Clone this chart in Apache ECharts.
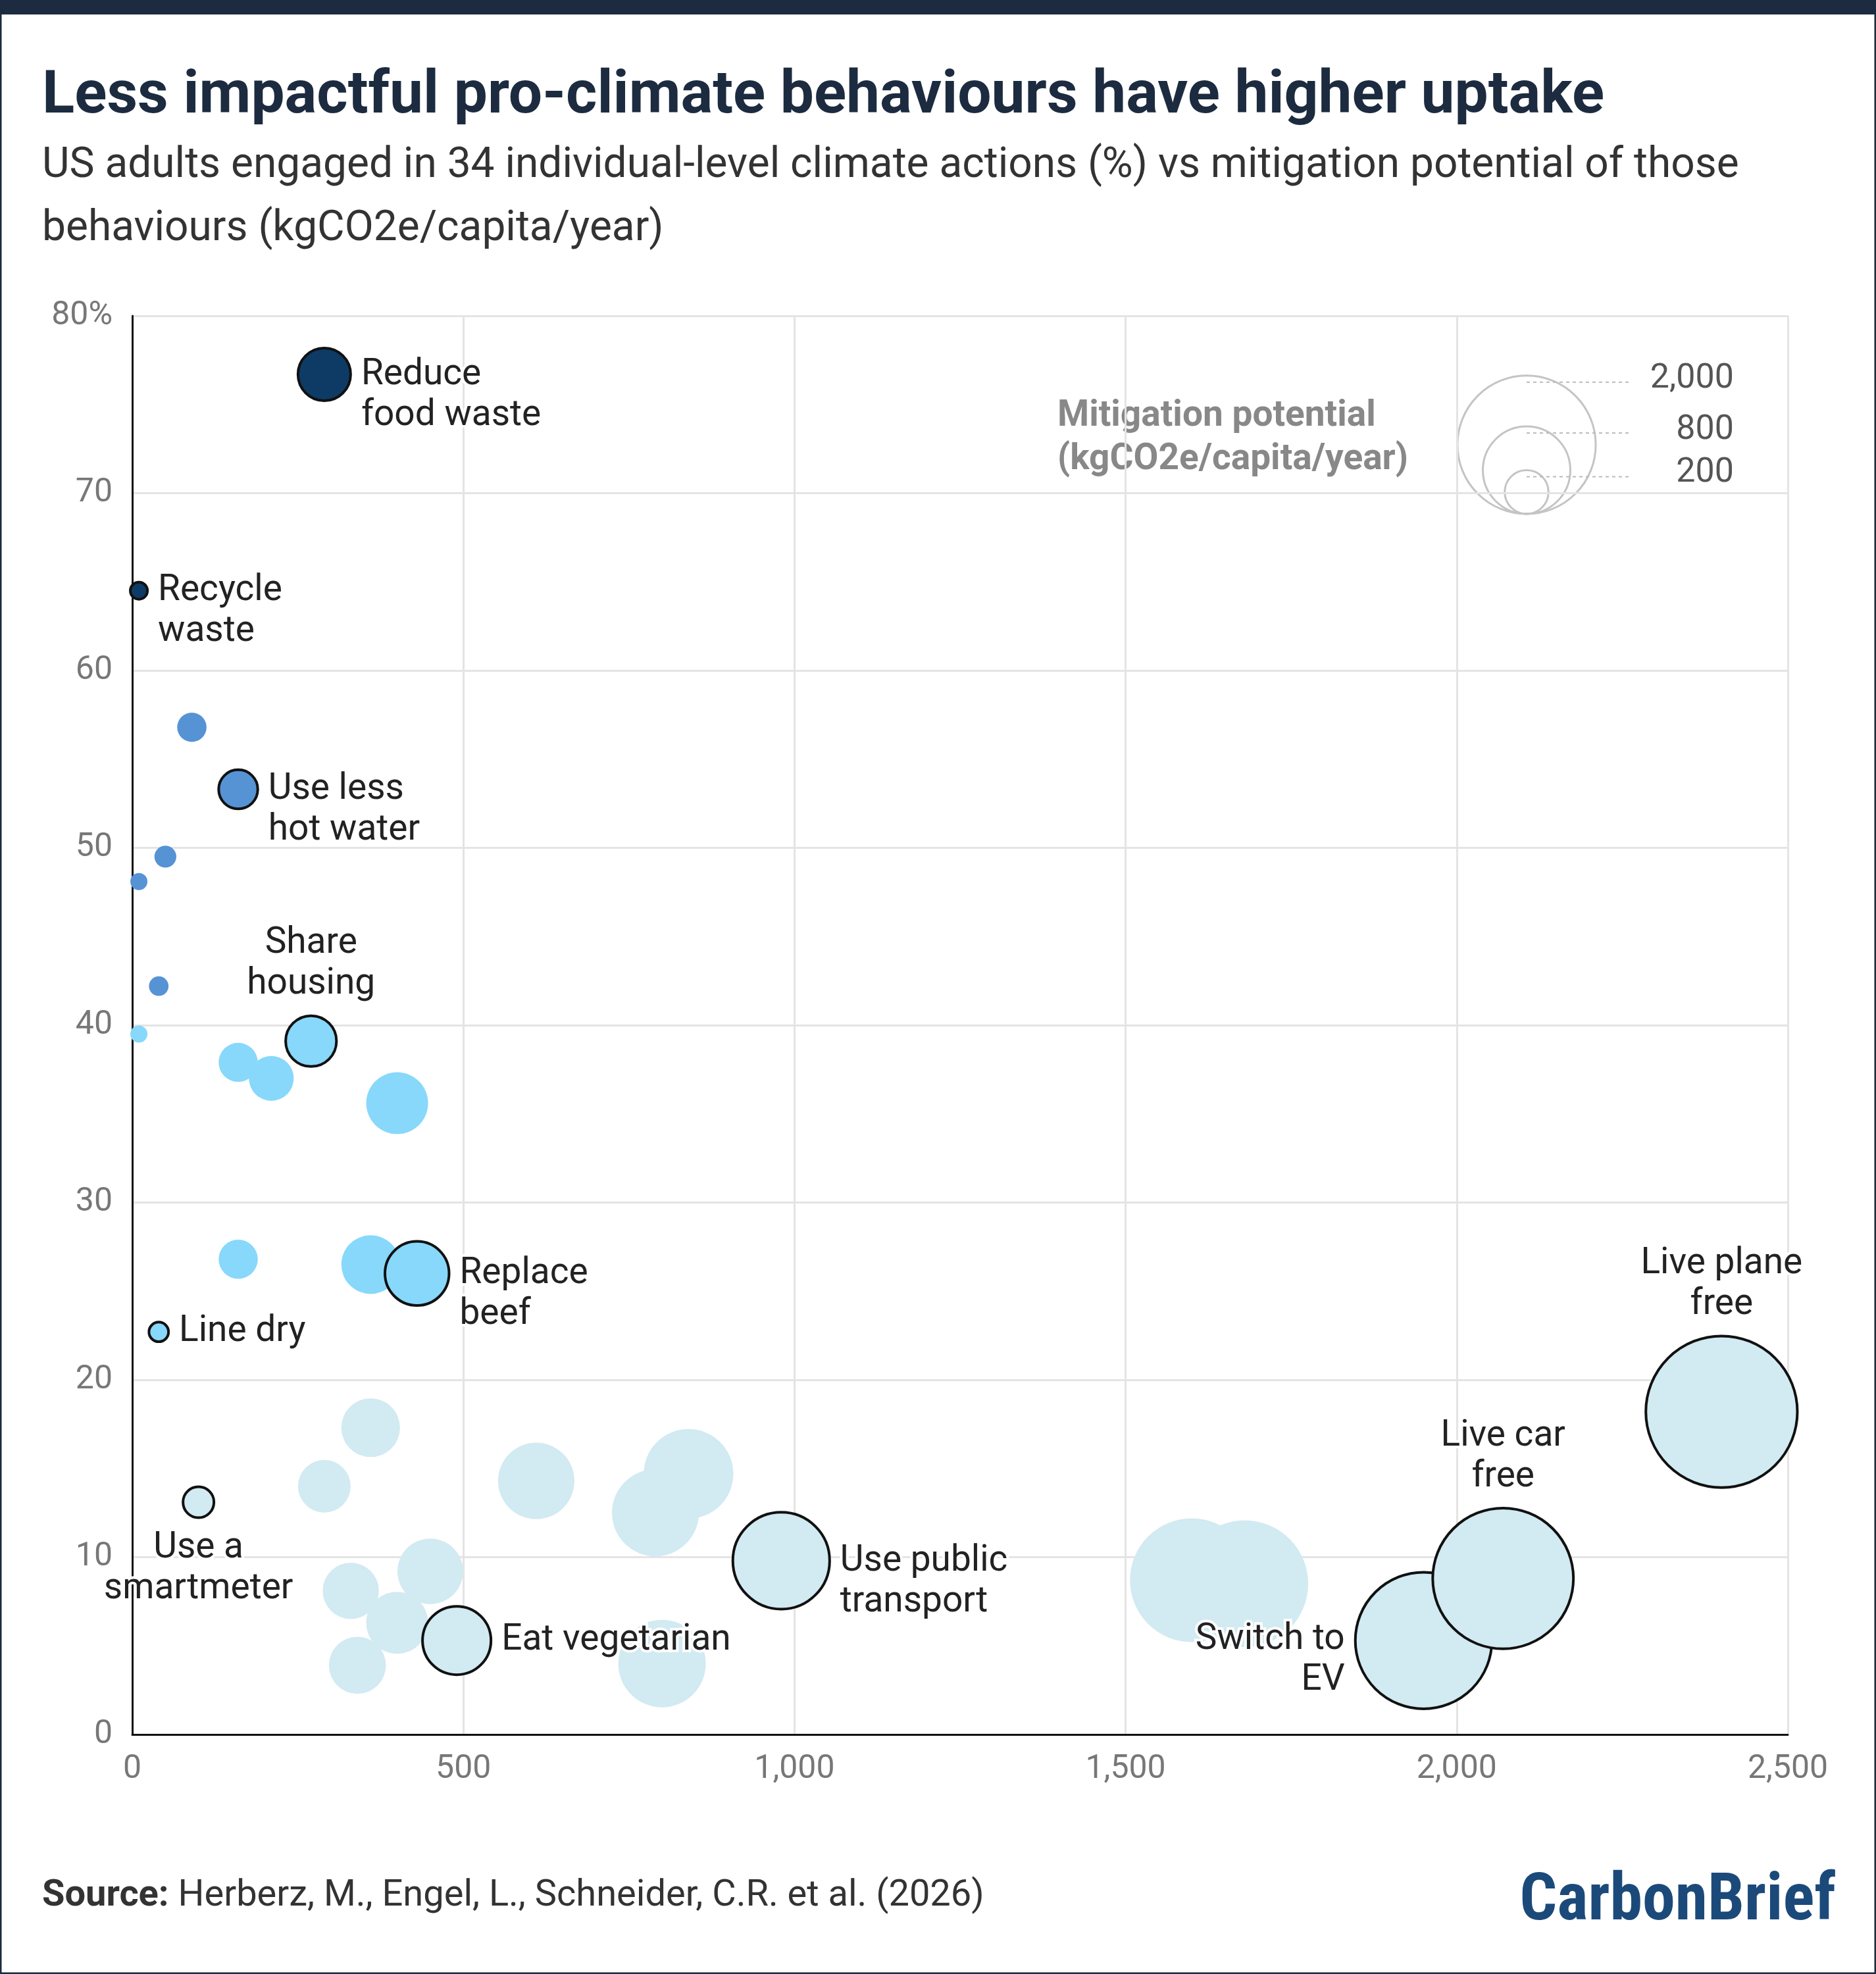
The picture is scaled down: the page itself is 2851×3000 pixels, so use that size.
<!DOCTYPE html>
<html>
<head>
<meta charset="utf-8">
<script src="https://cdn.jsdelivr.net/npm/echarts@6/dist/echarts.min.js"></script>
<style>
  html, body { margin: 0; padding: 0; background: #fff; }
  #chart { width: 2851px; height: 3000px; }
</style>
</head>
<body>
<div id="chart"></div>
<script>
// [mitigation kgCO2e, share %, label]
const navyPoints = [[290, 76.7, "Reduce\nfood waste"], [10, 64.5, "Recycle\nwaste"]];
const bluePoints = [[90, 56.8, ""], [160, 53.3, "Use less\nhot water"], [50, 49.5, ""], [10, 48.1, ""], [40, 42.2, ""]];
const cyanPoints = [[10, 39.5, ""], [160, 37.9, ""], [210, 37.0, ""], [270, 39.1, "Share\nhousing"], [400, 35.6, ""],
  [160, 26.8, ""], [360, 26.5, ""], [430, 26.0, "Replace\nbeef"], [40, 22.7, "Line dry"]];
const palePoints = [[360, 17.3, ""], [290, 14.0, ""], [100, 13.1, "Use a\nsmartmeter"], [610, 14.3, ""], [840, 14.7, ""],
  [790, 12.5, ""], [330, 8.1, ""], [450, 9.2, ""], [400, 6.3, ""], [340, 3.9, ""], [800, 4.0, ""],
  [490, 5.3, "Eat vegetarian"], [980, 9.8, "Use public\ntransport"], [1600, 8.7, ""], [1680, 8.5, ""],
  [1950, 5.3, "Switch to\nEV"], [2070, 8.8, "Live car\nfree"], [2400, 18.2, "Live plane\nfree"]];
const legendValues = [2000, 800, 200];

const labelPos = {
  "Share\nhousing": { position: "top", align: "center" },
  "Use a\nsmartmeter": { position: "bottom", align: "center" },
  "Live car\nfree": { position: "top", align: "center" },
  "Live plane\nfree": { position: "top", align: "center" },
  "Switch to\nEV": { position: "left", align: "right", offset: [0, 30] }
};

function sizeOf(v) { return Math.max(26, 4.7 * Math.sqrt(v)); }

function makeSeries(points, color) {
  return {
    type: "scatter",
    symbolSize: function (v) { return sizeOf(v[0]); },
    itemStyle: { color: color, opacity: 1 },
    data: points.map(function (p) {
      const item = { value: [p[0], p[1]] };
      if (p[2]) {
        const multi = p[2].indexOf("\n") >= 0;
        const pos = labelPos[p[2]] || { position: "right", align: "left", offset: [0, multi ? 32 : 0] };
        item.itemStyle = { borderColor: "#111", borderWidth: 4 };
        item.label = Object.assign({
          show: true, formatter: p[2], fontSize: 55, lineHeight: 62, color: "#222",
          fontFamily: "Roboto", textBorderColor: "#fff", textBorderWidth: 8, distance: 14
        }, pos);
      }
      return item;
    })
  };
}

const el = echarts.init(document.getElementById("chart"));

const legendCx = 2320, legendBottom = 781;
const legendGraphics = [];
legendValues.forEach(function (v, i) {
  const r = sizeOf(v) / 2;
  const ty = legendBottom - 2 * r;
  legendGraphics.push({ type: "circle", shape: { cx: legendCx, cy: legendBottom - r, r: r },
    style: { fill: "none", stroke: "#c4c4c4", lineWidth: 3 } });
  legendGraphics.push({ type: "line", shape: { x1: legendCx, y1: ty + 10, x2: 2480, y2: ty + 10 },
    style: { stroke: "#bbb", lineWidth: 2, lineDash: [5, 5] } });
  legendGraphics.push({ type: "text", style: { text: v.toLocaleString("en-US"), x: 2635, y: [576, 654, 719][i],
    fill: "#555", font: "52px Roboto", textAlign: "right", textVerticalAlign: "middle" } });
});

el.setOption({
  animation: false,
  grid: { left: 201, right: 134, top: 480, bottom: 364 },
  xAxis: {
    type: "value", min: 0, max: 2500, interval: 500,
    axisLine: { show: true, lineStyle: { color: "#111", width: 3 } },
    axisTick: { show: false },
    splitLine: { lineStyle: { color: "#e4e4e4", width: 3 } },
    axisLabel: { fontSize: 50, color: "#777", fontFamily: "Roboto", margin: 28,
      formatter: function (v) { return v.toLocaleString("en-US"); } }
  },
  yAxis: {
    type: "value", min: 0, max: 80, interval: 10,
    axisLine: { show: true, lineStyle: { color: "#111", width: 3 } },
    axisTick: { show: false },
    splitLine: { lineStyle: { color: "#e4e4e4", width: 3 } },
    axisLabel: { fontSize: 50, color: "#777", fontFamily: "Roboto", margin: 30,
      formatter: function (v) { return v === 80 ? "80%" : v; } }
  },
  series: [
    makeSeries(palePoints, "#d2eaf1"),
    makeSeries(cyanPoints, "#87d8fb"),
    makeSeries(bluePoints, "#5693d4"),
    makeSeries(navyPoints, "#0d3b66")
  ],
  graphic: [
    { type: "rect", shape: { x: 0, y: 0, width: 2851, height: 22 }, style: { fill: "#1c2b3f" } },
    { type: "rect", shape: { x: 1, y: 1, width: 2849, height: 2998 }, style: { fill: "none", stroke: "#1c2b3f", lineWidth: 3 } },
    { type: "text", style: { text: "Less impactful pro-climate behaviours have higher uptake", x: 64, y: 148,
      fill: "#1c2b3f", font: "bold 91px Roboto", textVerticalAlign: "middle" } },
    { type: "text", style: { text: "US adults engaged in 34 individual-level climate actions (%) vs mitigation potential of those\nbehaviours (kgCO2e/capita/year)",
      x: 64, y: 205, fill: "#333", font: "64px Roboto", lineHeight: 96 } },
    { type: "text", style: { text: "Mitigation potential\n(kgCO2e/capita/year)", x: 1607, y: 600,
      fill: "#888", font: "bold 55px Roboto", lineHeight: 66 } },
    { type: "text", style: { text: "{b|Source:} Herberz, M., Engel, L., Schneider, C.R. et al. (2026)", x: 64, y: 2882,
      textVerticalAlign: "middle", rich: { b: { fontWeight: "bold", fontSize: 56, fill: "#333", fontFamily: "Roboto" } },
      fill: "#333", font: "56px Roboto" } },
    { type: "text", style: { text: "CarbonBrief", x: 2790, y: 2892, textAlign: "right", textVerticalAlign: "middle",
      fill: "#1b4a7a", font: "bold 100px 'Roboto Condensed', 'Liberation Sans Narrow', Roboto" } }
  ].concat(legendGraphics)
});
</script>
</body>
</html>
